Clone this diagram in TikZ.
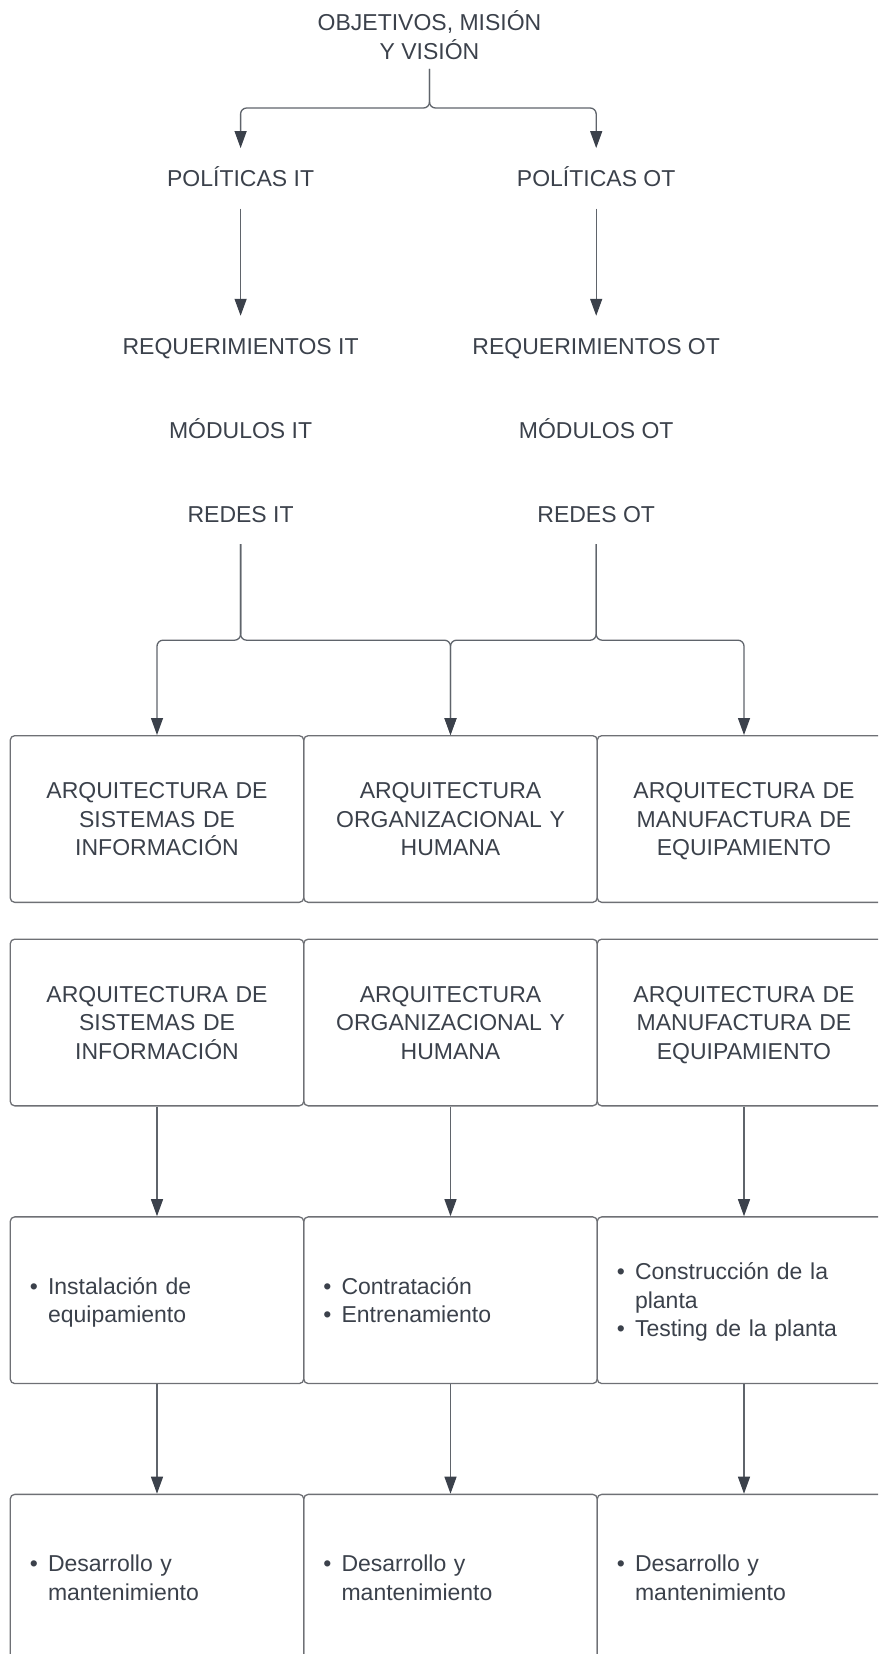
\documentclass[tikz,border=0pt]{standalone}
\usepackage{fontspec}
\setmainfont{Liberation Sans}
\usetikzlibrary{arrows.meta}
\definecolor{ink}{HTML}{3B414B}
\definecolor{wire}{HTML}{5F646B}
\definecolor{edge}{HTML}{6E7075}
% bullet item and continuation line with hanging indent
\newcommand\bitem[1]{\makebox[18.3pt][l]{\textbullet}#1}
\newcommand\bcont{\hspace*{18.3pt}}
\begin{document}
\begin{tikzpicture}[x=1pt,y=-1pt,
  every node/.style={text=ink, font=\fontsize{23}{28.5}\selectfont},
  % fixed first-line height and last-line depth so all texts sit alike
  even/.style={execute at begin node={\rule{0pt}{21pt}},
    execute at end node={\rule[-4.8pt]{0pt}{4.8pt}}},
  txt/.style={even, minimum height=60pt, inner sep=0pt, align=center},
  box/.style={even, draw=edge, line width=1.3pt, rounded corners=4.5pt,
    minimum width=293.5pt, minimum height=166.7pt,
    text width=254.5pt, inner xsep=19.5pt, inner ysep=0pt},
  mid/.style={box, align=center},
  lst/.style={box, align=left},
  conn/.style={draw=wire, line width=1.3pt, rounded corners=6pt,
    -{Triangle[width=12pt,length=17pt,color=ink]}}
]
\clip (0,0) rectangle (878,1654);

% upper chain of labels
\node[txt, minimum height=63pt] (obj) at (429.5,37.3) {OBJETIVOS, MISIÓN\\Y VISIÓN};
\node[txt] (pit) at (240.6,178.3) {POLÍTICAS IT};
\node[txt] (pot) at (596.2,178.3) {POLÍTICAS OT};
\node[txt] (rit) at (240.6,346) {REQUERIMIENTOS IT};
\node[txt] (rot) at (596.2,346) {REQUERIMIENTOS OT};
\node[txt] (mit) at (240.6,430.5) {MÓDULOS IT};
\node[txt] (mot) at (596.2,430.5) {MÓDULOS OT};
\node[txt] (nit) at (240.6,514) {REDES IT};
\node[txt] (nott) at (596.2,514) {REDES OT};

% architecture rows
\node[mid] (a1) at (157,819) {ARQUITECTURA DE\\SISTEMAS DE\\INFORMACIÓN};
\node[mid] (a2) at (450.5,819) {ARQUITECTURA\\ORGANIZACIONAL Y\\HUMANA};
\node[mid] (a3) at (744,819) {ARQUITECTURA DE\\MANUFACTURA DE\\EQUIPAMIENTO};

\node[mid] (b1) at (157,1022.5) {ARQUITECTURA DE\\SISTEMAS DE\\INFORMACIÓN};
\node[mid] (b2) at (450.5,1022.5) {ARQUITECTURA\\ORGANIZACIONAL Y\\HUMANA};
\node[mid] (b3) at (744,1022.5) {ARQUITECTURA DE\\MANUFACTURA DE\\EQUIPAMIENTO};

% activity rows
\node[lst] (c1) at (157,1300.2) {\bitem{Instalación de}\\\bcont equipamiento};
\node[lst] (c2) at (450.5,1300.2) {\bitem{Contratación}\\\bitem{Entrenamiento}};
\node[lst] (c3) at (744,1300.2) {\bitem{Construcción de la}\\\bcont planta\\\bitem{Testing de la planta}};

\node[lst] (d1) at (157,1577.7) {\bitem{Desarrollo y}\\\bcont mantenimiento};
\node[lst] (d2) at (450.5,1577.7) {\bitem{Desarrollo y}\\\bcont mantenimiento};
\node[lst] (d3) at (744,1577.7) {\bitem{Desarrollo y}\\\bcont mantenimiento};

% connectors
\draw[conn] (obj.south) -- ++(0,39) -| (pit.north);
\draw[conn] (obj.south) -- ++(0,39) -| (pot.north);
\draw[conn] (pit.south) -- (rit.north);
\draw[conn] (pot.south) -- (rot.north);

\draw[conn] (nit.south) -- ++(0,96) -| (a1.north);
\draw[conn] (nit.south) -- ++(0,96) -| (a2.north);
\draw[conn] (nott.south) -- ++(0,96) -| (a2.north);
\draw[conn] (nott.south) -- ++(0,96) -| (a3.north);

\draw[conn] (b1.south) -- (c1.north);
\draw[conn] (b2.south) -- (c2.north);
\draw[conn] (b3.south) -- (c3.north);
\draw[conn] (c1.south) -- (d1.north);
\draw[conn] (c2.south) -- (d2.north);
\draw[conn] (c3.south) -- (d3.north);
\end{tikzpicture}
\end{document}
